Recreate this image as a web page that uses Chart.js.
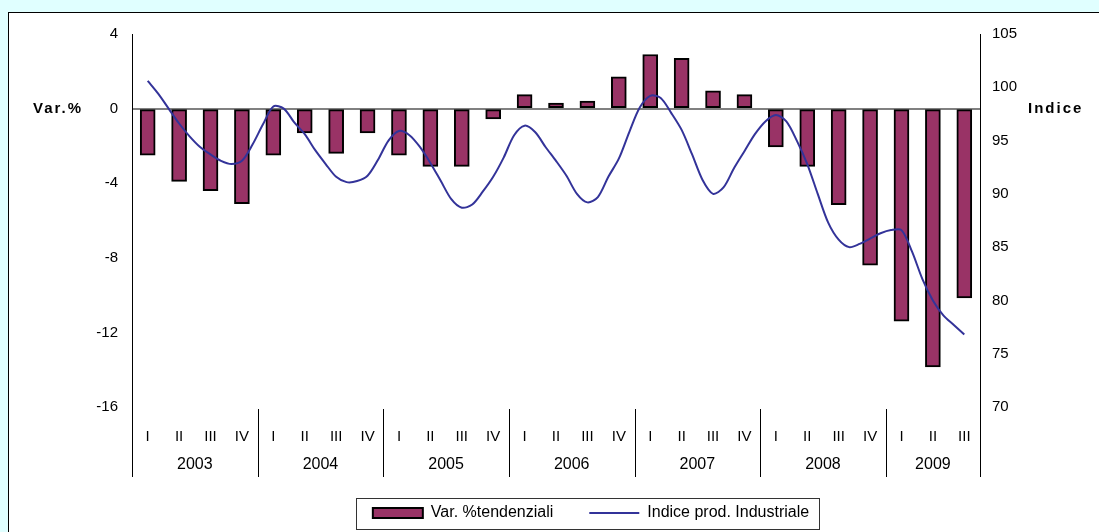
<!DOCTYPE html>
<html>
<head>
<meta charset="utf-8">
<script src="https://cdn.jsdelivr.net/npm/chart.js@4.4.1/dist/chart.umd.min.js"></script>
<style>
  html, body { margin: 0; padding: 0; background: #e0ffff; }
  #wrap { position: relative; width: 1099px; height: 532px; }
</style>
</head>
<body>
<div id="wrap"><canvas id="c"></canvas></div>
<script>
// ---- data ----
const years = ['2003', '2004', '2005', '2006', '2007', '2008', '2009'];
const quarterNames = ['I', 'II', 'III', 'IV'];
const quartersPerYear = [4, 4, 4, 4, 4, 4, 3];
const varTendenziali = [
  -2.5, -3.9, -4.4, -5.1,
  -2.5, -1.3, -2.4, -1.3,
  -2.5, -3.1, -3.1, -0.55,
  0.75, 0.3, 0.4, 1.7,
  2.9, 2.7, 0.95, 0.75,
  -2.05, -3.1, -5.15, -8.4,
  -11.4, -13.85, -10.15
];
// monthly index (Feb 2003 ... Aug 2009), one value per month
const indiceProd = [
  100.6, 99.4, 98.0, 96.6, 95.4, 94.4, 93.7, 93.1, 92.8, 93.1, 94.6, 96.5,
  98.2, 98.0, 96.7, 95.6, 94.1, 92.8, 91.6, 91.1, 91.2, 91.7, 93.2, 95.0,
  95.9, 95.5, 94.4, 92.9, 91.2, 89.5, 88.7, 89.0, 90.2, 91.6, 93.4, 95.5,
  96.4, 95.8, 94.4, 93.1, 91.7, 90.0, 89.2, 89.7, 91.6, 93.3, 95.8, 98.1,
  99.2, 99.0, 97.6, 96.0, 93.7, 91.3, 90.0, 90.6, 92.4, 94.0, 95.6, 96.8,
  97.4, 96.8, 95.0, 92.8, 90.0, 87.3, 85.7, 85.0, 85.3, 85.8, 86.3, 86.6,
  86.6, 84.6, 82.0, 80.0, 78.6, 77.7, 76.8
];
const leftTicks = { min: -16, max: 4, step: 4 };
const rightTicks = { min: 70, max: 105, step: 5 };
const seriesNames = ['Var. %tendenziali', 'Indice prod. Industriale'];
const axisTitles = ['Var.%', 'Indice'];

// ---- derived ----
const categories = [];
const yearCenters = [];
const yearStarts = [];
quartersPerYear.forEach((n, yi) => {
  yearStarts.push(categories.length);
  yearCenters.push(categories.length + (n - 1) / 2);
  for (let q = 0; q < n; q++) categories.push(quarterNames[q]);
});
const nCat = categories.length;
const linePoints = indiceProd.map((v, i) => ({ x: i / 3, y: v }));

const FONT = 'Liberation Sans, Arial, sans-serif';

const framePlugin = {
  id: 'frame',
  beforeDraw(chart) {
    const c = chart.ctx;
    c.save();
    c.fillStyle = '#e0ffff';
    c.fillRect(0, 0, chart.width, chart.height);
    c.fillStyle = '#ffffff';
    c.fillRect(8, 12, chart.width, chart.height);
    c.strokeStyle = '#000';
    c.lineWidth = 1;
    c.strokeRect(8.5, 12.5, chart.width + 20, chart.height + 20);
    c.restore();
  },
  afterDraw(chart) {
    const { ctx, chartArea: a, scales } = chart;
    const xm = scales.xm;
    const y0 = scales.y.getPixelForValue(0);
    const bottom = a.bottom + 70;
    ctx.save();
    ctx.strokeStyle = '#000';
    ctx.lineWidth = 1;
    [a.left, a.right].forEach(x => {
      const px = Math.round(x) + 0.5;
      ctx.beginPath(); ctx.moveTo(px, a.top); ctx.lineTo(px, bottom); ctx.stroke();
    });
    yearStarts.forEach((s, i) => {
      if (i === 0) return;
      const px = Math.round(xm.getPixelForValue(s - 0.5)) + 0.5;
      ctx.beginPath(); ctx.moveTo(px, a.bottom + 2); ctx.lineTo(px, bottom); ctx.stroke();
    });
    // axis titles
    ctx.fillStyle = '#000';
    ctx.font = 'bold 15px ' + FONT;
    ctx.letterSpacing = '2px';
    ctx.textBaseline = 'middle';
    ctx.textAlign = 'left';
    ctx.fillText(axisTitles[0], 33, y0);
    ctx.fillText(axisTitles[1], 1028, y0);
    ctx.letterSpacing = '0px';
    // legend border
    const hb = chart.legend && chart.legend.legendHitBoxes;
    if (hb && hb.length) {
      let l = Infinity, r = -Infinity, cy = 0;
      hb.forEach(h => { l = Math.min(l, h.left); r = Math.max(r, h.left + h.width); cy = h.top + h.height / 2; });
      ctx.strokeStyle = '#333';
      ctx.strokeRect(Math.round(l - 17) + 0.5, Math.round(cy - 15.5) + 0.5, Math.round(r - l + 27), 31);
    }
    ctx.restore();
  }
};

new Chart(document.getElementById('c'), {
  type: 'bar',
  data: {
    labels: categories,
    datasets: [
      {
        type: 'line',
        label: seriesNames[1],
        data: linePoints,
        xAxisID: 'xm',
        yAxisID: 'y2',
        borderColor: '#333399',
        backgroundColor: '#333399',
        borderWidth: 2,
        pointRadius: 0,
        tension: 0.3,
        fill: false,
        grouped: false
      },
      {
        type: 'bar',
        label: seriesNames[0],
        data: varTendenziali,
        xAxisID: 'x',
        yAxisID: 'y',
        backgroundColor: '#993366',
        borderColor: '#000000',
        borderWidth: 2,
        borderSkipped: false,
        barThickness: 15,
        grouped: false
      }
    ]
  },
  options: {
    responsive: true,
    maintainAspectRatio: false,
    animation: false,
    layout: { padding: { left: 83, right: 0, top: 34, bottom: 1 } },
    plugins: {
      tooltip: { enabled: false },
      legend: {
        position: 'bottom',
        reverse: true,
        labels: {
          usePointStyle: true,
          pointStyleWidth: 50,
          boxHeight: 10,
          padding: 36,
          color: '#000',
          font: { family: FONT, size: 16 },
          generateLabels(chart) {
            const items = Chart.defaults.plugins.legend.labels.generateLabels(chart);
            items.forEach(it => {
              if (it.datasetIndex === 0) { it.pointStyle = 'line'; it.lineWidth = 2; it.strokeStyle = '#333399'; }
              else { it.pointStyle = 'rect'; it.lineWidth = 2; it.strokeStyle = '#000'; it.fillStyle = '#993366'; }
            });
            return items;
          }
        }
      }
    },
    scales: {
      x: {
        type: 'category',
        position: 'bottom',
        weight: 1,
        offset: true,
        grid: { display: false, drawTicks: false },
        border: { display: false },
        ticks: { autoSkip: false, maxRotation: 0, minRotation: 0, padding: 21, color: '#000', font: { family: FONT, size: 15 } },
        afterFit(s) { s.height = 39; }
      },
      xy: {
        type: 'linear',
        position: 'bottom',
        weight: 2,
        min: -0.5,
        max: nCat - 0.5,
        offset: false,
        grid: { display: false, drawTicks: false },
        border: { display: false },
        afterBuildTicks(s) { s.ticks = yearCenters.map(v => ({ value: v })); },
        ticks: { autoSkip: false, maxRotation: 0, minRotation: 0, padding: 9, color: '#000', font: { family: FONT, size: 16 },
          callback: (v, i) => years[i] },
        afterFit(s) { s.height = 23; }
      },
      xm: {
        type: 'linear',
        display: false,
        min: -0.5,
        max: nCat - 0.5,
        offset: false
      },
      y: {
        type: 'linear',
        position: 'left',
        min: leftTicks.min,
        max: leftTicks.max,
        grid: {
          drawTicks: false,
          lineWidth: 2,
          color: ctx => (ctx.tick && ctx.tick.value === 0 ? '#808080' : 'rgba(0,0,0,0)')
        },
        border: { display: false },
        ticks: { stepSize: leftTicks.step, padding: 14, color: '#000', font: { family: FONT, size: 15 } },
        afterFit(s) { s.width = 49; }
      },
      y2: {
        type: 'linear',
        position: 'right',
        min: rightTicks.min,
        max: rightTicks.max,
        grid: { display: false, drawTicks: false },
        border: { display: false },
        ticks: { stepSize: rightTicks.step, padding: 12, color: '#000', font: { family: FONT, size: 15 } },
        afterFit(s) { s.width = 119; }
      }
    }
  },
  plugins: [framePlugin]
});
</script>
</body>
</html>
